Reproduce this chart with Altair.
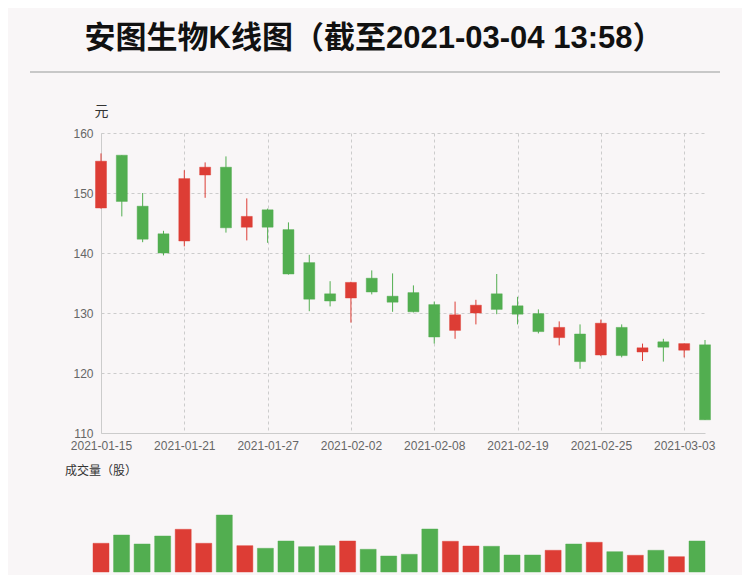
import altair as alt
import pandas as pd

dates = ["2021-01-15", "2021-01-18", "2021-01-19", "2021-01-20", "2021-01-21",
         "2021-01-22", "2021-01-25", "2021-01-26", "2021-01-27", "2021-01-28",
         "2021-01-29", "2021-02-01", "2021-02-02", "2021-02-03", "2021-02-04",
         "2021-02-05", "2021-02-08", "2021-02-09", "2021-02-10", "2021-02-18",
         "2021-02-19", "2021-02-22", "2021-02-23", "2021-02-24", "2021-02-25",
         "2021-02-26", "2021-03-01", "2021-03-02", "2021-03-03", "2021-03-04"]
opens = [147.5, 156.3, 147.8, 143.2, 142.0, 153.0, 154.3, 144.3, 147.2, 143.9,
         138.4, 133.2, 132.5, 135.8, 132.8, 133.4, 131.4, 127.1, 130.0, 133.2,
         131.2, 129.9, 125.9, 126.5, 123.0, 127.6, 123.5, 125.2, 123.8, 124.7]
closes = [155.3, 148.6, 142.3, 140.0, 152.4, 154.3, 144.2, 146.1, 144.3, 136.5,
          132.3, 132.0, 135.1, 133.5, 131.8, 130.2, 126.0, 129.7, 131.3, 130.6,
          129.8, 126.9, 127.6, 121.9, 128.3, 122.9, 124.2, 124.3, 124.9, 112.2]
highs = [156.6, 156.3, 150.0, 143.7, 153.8, 155.1, 156.1, 149.1, 147.4, 145.1,
         139.7, 135.3, 135.2, 137.1, 136.6, 134.6, 131.9, 131.9, 132.2, 136.5,
         132.7, 130.6, 128.6, 128.1, 128.9, 128.1, 124.9, 125.7, 124.9, 125.5]
lows = [147.4, 146.1, 141.8, 139.6, 141.1, 149.2, 143.4, 142.1, 141.7, 136.4,
        130.3, 131.1, 128.4, 133.1, 130.2, 130.1, 124.9, 125.7, 128.1, 129.8,
        128.1, 126.6, 124.6, 120.7, 122.8, 122.6, 122.0, 121.9, 122.6, 112.2]
volumes = [1435000, 1850000, 1400000, 1800000, 2135000, 1435000, 2850000, 1315000,
           1185000, 1550000, 1265000, 1315000, 1550000, 1135000, 800000,
           885000, 2150000, 1535000, 1300000, 1285000, 850000, 850000, 1085000,
           1400000, 1485000, 1015000, 835000, 1085000, 765000, 1550000]

RED = "#dd3d35"
GREEN = "#52ae50"
FONT = "Liberation Sans, Noto Sans CJK SC, sans-serif"

df = pd.DataFrame({
    "idx": list(range(len(dates))),
    "date": dates,
    "open": opens,
    "close": closes,
    "high": highs,
    "low": lows,
    "volume": volumes,
})
df["dir"] = ["涨" if c >= o else "跌" for o, c in zip(opens, closes)]

label_expr = "[" + ",".join("'" + d + "'" for d in dates) + "][datum.value]"
color = alt.Color("dir:N", scale=alt.Scale(domain=["涨", "跌"], range=[RED, GREEN]), legend=None)

x_price = alt.X(
    "idx:Q",
    scale=alt.Scale(domain=[0, len(dates) - 1], nice=False, zero=False, padding=0),
    axis=alt.Axis(values=list(range(0, len(dates), 4)), labelExpr=label_expr, title=None,
                  grid=True, gridDash=[3, 3], gridColor="#cccccc", ticks=False, tickSize=0,
                  labelPadding=7, labelColor="#666666", labelFontSize=12, labelFont=FONT,
                  domainColor="#cccccc", labelFlush=False),
)
y_price = alt.Y(
    "low:Q",
    scale=alt.Scale(domain=[110, 160], nice=False, zero=False),
    axis=alt.Axis(values=[110, 120, 130, 140, 150, 160], title="元", titleAngle=0,
                  titleX=0, titleY=-22, titleAlign="center", titleBaseline="middle",
                  titleFontSize=14, titleFontWeight="normal", titleColor="#333333", titleFont=FONT,
                  grid=True, gridDash=[3, 3], gridColor="#cccccc", ticks=False, tickSize=0,
                  labelPadding=8, labelColor="#666666", labelFontSize=12, labelFont=FONT,
                  domainColor="#cccccc"),
)

wick = alt.Chart(df).mark_rule(strokeWidth=1).encode(
    x=x_price, y=y_price, y2="high:Q", color=color
)
body = alt.Chart(df).mark_bar(size=11, strokeWidth=1, strokeOpacity=0.45).encode(
    x="idx:Q", y="open:Q", y2="close:Q", color=color, stroke=color
)
candles = alt.layer(wick, body)

vol = alt.Chart(df).mark_bar(size=16, strokeWidth=1, strokeOpacity=0.45).encode(
    x=alt.X("idx:Q", scale=alt.Scale(domain=[0, len(dates) - 1], range=[0, 596], nice=False,
                                     zero=False, padding=0), axis=None),
    y=alt.Y("volume:Q", scale=alt.Scale(domain=[0, 3000000], range=[439, 379], nice=False), axis=None),
    color=color, stroke=color,
)

one = alt.Data(values=[{"a": 1}])
rule_title = alt.Chart(one).mark_rule(color="#c8c8c8", strokeWidth=2).encode(
    x=alt.value(-71), x2=alt.value(619), y=alt.value(-61)
)
vol_label = alt.Chart(one).mark_text(
    text="成交量（股）", align="left", baseline="middle", fontSize=12, font=FONT, color="#333333"
).encode(x=alt.value(-36), y=alt.value(338))

chart = alt.layer(candles, vol, rule_title, vol_label).resolve_scale(
    x="independent", y="independent"
).properties(
    width=604, height=300,
    title=alt.TitleParams("安图生物K线图（截至2021-03-04 13:58）", fontSize=31, fontWeight="bold",
                          font=FONT, color="#111111", anchor="middle", frame="group", dx=-29, offset=16),
    autosize=alt.AutoSizeParams(type="none"),
    padding={"left": 93, "top": 125, "right": 37, "bottom": 142},
).configure(background="#f9f6f7").configure_view(stroke=None)

chart.save("out.html", embed_options={"renderer": "svg", "actions": False})
